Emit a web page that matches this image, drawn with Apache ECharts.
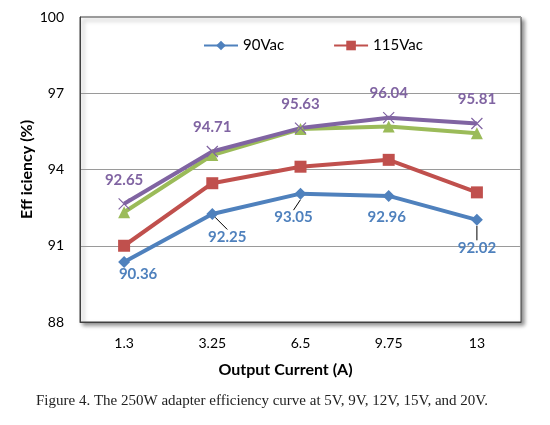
<!DOCTYPE html>
<html>
<head>
<meta charset="utf-8">
<script src="https://cdn.jsdelivr.net/npm/echarts@6/dist/echarts.min.js"></script>
<style>
  html, body { margin: 0; padding: 0; background: #fff; }
  #main { width: 550px; height: 425px; }
</style>
</head>
<body>
<div id="main"></div>
<script>
// 数据
var currents = ['1.3', '3.25', '6.5', '9.75', '13'];
var yTicks = [88, 100, 3];
var v90 = [90.36, 92.25, 93.05, 92.96, 92.02];
var v115 = [91.0, 93.46, 94.11, 94.38, 93.1];
var vGreen = [92.32, 94.57, 95.59, 95.69, 95.43];
var vPurple = [92.65, 94.71, 95.63, 96.04, 95.81];
// 蓝色标签偏移和引线
var blueOffsets = [[14, 12], [15, 23], [-7, 24], [-2, 21], [0, 28]];
var blueLeader = [false, true, true, false, true];

var font = 'Lato, Carlito, sans-serif';
var myChart = echarts.init(document.getElementById('main'));

var blueData = v90.map(function (v, i) {
    return { value: v, labelLine: { show: blueLeader[i] } };
});

var option = {
    animation: false,
    textStyle: { fontFamily: font },
    grid: {
        left: 80, right: 29, top: 17, bottom: 103,
        show: true,
        backgroundColor: '#fff',
        borderColor: '#404040',
        borderWidth: 1,
        shadowColor: 'rgba(0,0,0,0.45)',
        shadowBlur: 4,
        shadowOffsetX: 3,
        shadowOffsetY: 3
    },
    legend: {
        data: ['90Vac', '115Vac'],
        top: 33,
        left: 198,
        itemWidth: 34,
        itemHeight: 12,
        itemGap: 49,
        textStyle: { fontFamily: font, fontSize: 15, color: '#000' }
    },
    xAxis: {
        type: 'category',
        data: currents,
        name: 'Output Current (A)',
        nameLocation: 'middle',
        nameGap: 40,
        nameTextStyle: { fontFamily: font, fontSize: 16, fontWeight: 'bold', color: '#000', padding: [0, 30, 0, 0] },
        axisLine: { lineStyle: { color: '#404040' } },
        axisTick: { show: false },
        axisLabel: { fontFamily: font, fontSize: 14, color: '#000', margin: 14 }
    },
    yAxis: {
        type: 'value',
        min: yTicks[0],
        max: yTicks[1],
        interval: yTicks[2],
        name: 'Eff iciency (%)',
        nameLocation: 'middle',
        nameGap: 45,
        nameMoveOverlap: false,
        nameTextStyle: { fontFamily: font, fontSize: 16, fontWeight: 'bold', color: '#000' },
        axisLine: { show: true, lineStyle: { color: '#404040' } },
        axisTick: { show: false },
        axisLabel: { fontFamily: font, fontSize: 14, color: '#000', margin: 16 },
        splitLine: { lineStyle: { color: '#9a9a9a' } }
    },
    series: [
        {
            name: '90Vac',
            type: 'line',
            data: blueData,
            z: 5,
            symbol: 'diamond',
            symbolSize: 12,
            lineStyle: { width: 4, color: '#4f81bd' },
            itemStyle: { color: '#4f81bd' },
            label: {
                show: true,
                position: 'inside',
                fontFamily: font,
                fontSize: 15,
                fontWeight: 'bold',
                color: '#4f81bd'
            },
            labelLayout: function (p) {
                var o = blueOffsets[p.dataIndex];
                return { dx: o[0], dy: o[1] };
            },
            labelLine: { show: true, length2: 0, lineStyle: { color: '#000', width: 1 } }
        },
        {
            name: '115Vac',
            type: 'line',
            data: v115,
            z: 4,
            symbol: 'rect',
            symbolSize: 12,
            lineStyle: { width: 4, color: '#c0504d' },
            itemStyle: { color: '#c0504d' }
        },
        {
            name: '230Vac',
            type: 'line',
            data: vGreen,
            z: 3,
            symbol: 'triangle',
            symbolSize: 12,
            lineStyle: { width: 4, color: '#9bbb59' },
            itemStyle: { color: '#9bbb59' }
        },
        {
            name: '264Vac',
            type: 'line',
            data: vPurple,
            z: 3,
            symbol: 'path://M0,0L10,10M10,0L0,10',
            symbolSize: 11,
            lineStyle: { width: 4, color: '#8064a2' },
            itemStyle: { color: 'none', borderColor: '#8064a2', borderWidth: 1.2 },
            label: {
                show: true,
                position: 'inside',
                offset: [0, -24],
                fontFamily: font,
                fontSize: 15,
                fontWeight: 'bold',
                color: '#8064a2'
            }
        }
    ],
    graphic: [
        {
            type: 'text',
            left: 36,
            top: 394,
            style: {
                text: 'Figure 4. The 250W adapter efficiency curve at 5V, 9V, 12V, 15V, and 20V.',
                fontFamily: '"Liberation Serif", serif',
                fontSize: 15,
                fill: '#222'
            }
        }
    ]
};
myChart.setOption(option);
</script>
</body>
</html>
